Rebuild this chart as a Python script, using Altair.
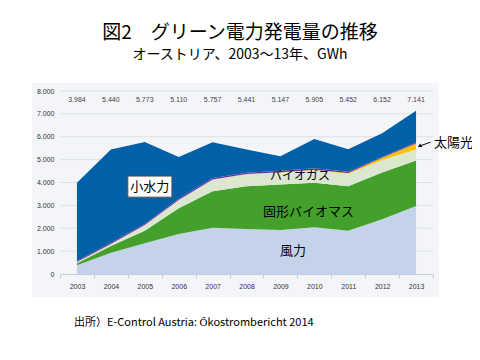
import altair as alt
import pandas as pd

years = [2003, 2004, 2005, 2006, 2007, 2008, 2009, 2010, 2011, 2012, 2013]
totals = [3984, 5440, 5773, 5110, 5757, 5441, 5147, 5905, 5452, 6152, 7141]
wind = [380, 930, 1340, 1745, 2020, 1965, 1920, 2040, 1890, 2390, 2970]
biomass = [90, 290, 550, 1125, 1600, 1875, 1995, 1950, 1950, 2050, 1995]
biogas = [50, 90, 250, 360, 515, 525, 525, 550, 540, 540, 480]
solar = [0, 0, 0, 0, 0, 5, 10, 20, 40, 100, 265]
other = [45, 55, 60, 60, 60, 60, 60, 60, 50, 40, 35]
y_ticks = [0, 1000, 2000, 3000, 4000, 5000, 6000, 7000, 8000]

series_names = ["風力", "固形バイオマス", "バイオガス", "太陽光", "その他", "小水力"]
series_colors = ["#c5d3ea", "#43a02a", "#dbe8cf", "#ffc000", "#7030a0", "#0060a8"]

hydro = [t - (w + b + g + s + o) for t, w, b, g, s, o in zip(totals, wind, biomass, biogas, solar, other)]
series_values = [wind, biomass, biogas, solar, other, hydro]

rows = []
for i, (name, vals) in enumerate(zip(series_names, series_values)):
    for y, v in zip(years, vals):
        rows.append({"year": y, "value": v, "series": name, "order": i})
df = pd.DataFrame(rows)

tot_df = pd.DataFrame({"year": years, "total": totals})

label_names = ["風力", "固形バイオマス", "バイオガス"]
label_x = [2009.37, 2009.83, 2009.58]
label_y = [1020, 2720, 4290]
label_sizes = [13, 13, 12]
lab_df = pd.DataFrame({"year": label_x, "value": label_y, "text": label_names, "size": label_sizes})

FONT = "Noto Sans CJK JP"
xscale = alt.Scale(domain=[2002.5, 2013.5], nice=False, zero=False)
yscale = alt.Scale(domain=[0, 8000], nice=False)

def X(field):
    return alt.X(field, scale=xscale, axis=None, title=None)

def Y(field):
    return alt.Y(field, scale=yscale, axis=None, title=None)

panel = alt.Chart(pd.DataFrame({"a": [0]})).mark_rect(color="#f4f5f9").encode(
    x=alt.value(-28), x2=alt.value(379), y=alt.value(-8), y2=alt.value(206)
)

grid = alt.Chart(pd.DataFrame({"v": y_ticks[1:]})).mark_rule(color="#dde2ea", strokeWidth=1).encode(
    y=Y("v:Q"), x=alt.value(0), x2=alt.value(373)
)

area = alt.Chart(df).mark_area(opacity=1, strokeWidth=0).encode(
    x=alt.X("year:Q", scale=xscale, title=None,
            axis=alt.Axis(values=[y - 0.5 for y in years] + [2013.5],
                          labelExpr="datum.value > 2013 ? '' : toString(datum.value + 0.5)",
                          labelOffset=17, grid=False, domainColor="#c8ccd4", tickColor="#c8ccd4",
                          tickSize=4, labelFontSize=7, labelColor="#333333", labelFont="Liberation Sans",
                          labelPadding=4, zindex=1, labelOverlap=False, labelBound=False, labelFlush=False)),
    y=alt.Y("value:Q", stack="zero", scale=yscale, title=None,
            axis=alt.Axis(values=y_ticks, domain=False, ticks=False, grid=False,
                          labelFontSize=7, labelColor="#333333",
                          labelFont="Liberation Sans", labelPadding=6, zindex=1,
                          labelOverlap=False, labelBound=False, labelFlush=False,
                          labelExpr="replace(format(datum.value, ','), ',', '.')")),
    color=alt.Color("series:N", scale=alt.Scale(domain=series_names, range=series_colors), legend=None),
    order=alt.Order("order:Q"),
)

tot_text = alt.Chart(tot_df).mark_text(fontSize=7, color="#444444", font="Liberation Sans").transform_calculate(
    t="replace(format(datum.total, ','), ',', '.')"
).encode(x=X("year:Q"), y=alt.value(9), text="t:N")

labels = alt.Chart(lab_df).mark_text(font=FONT, color="#000000").encode(
    x=X("year:Q"), y=Y("value:Q"), text="text:N",
    size=alt.Size("size:Q", scale=None, legend=None)
)

box_df = pd.DataFrame({"x": [2004.5], "x2": [2005.8], "y": [3360], "y2": [4280]})
box = alt.Chart(box_df).mark_rect(fill="white", stroke="#555555", strokeWidth=1).encode(
    x=X("x:Q"), x2="x2:Q", y=Y("y:Q"), y2="y2:Q"
)
hydro_lab = alt.Chart(pd.DataFrame({"year": [2005.15], "value": [3820], "text": ["小水力"]})).mark_text(
    font=FONT, fontSize=13, color="#000000").encode(
    x=X("year:Q"), y=Y("value:Q"), text="text:N")

solar_lab = alt.Chart(pd.DataFrame({"year": [2013.53], "value": [5710], "text": ["太陽光"]})).mark_text(
    font=FONT, fontSize=13, color="#000000", align="left").encode(
    x=X("year:Q"), y=Y("value:Q"), text="text:N")

arrow_line = alt.Chart(pd.DataFrame({"x": [2013.42], "x2": [2013.1], "y": [5760], "y2": [5590]})).mark_rule(
    color="#000000", strokeWidth=1).encode(
    x=X("x:Q"), x2="x2:Q", y=Y("y:Q"), y2="y2:Q")
arrow_head = alt.Chart(pd.DataFrame({"x": [2013.12], "y": [5600]})).mark_point(
    shape="triangle", filled=True, color="#000000", size=18, angle=240, opacity=1).encode(
    x=X("x:Q"), y=Y("y:Q"))

source = alt.Chart(pd.DataFrame({"t": ["出所）E-Control Austria: Őkostrombericht 2014"]})).mark_text(
    font=FONT, fontSize=11, color="#000000", align="left").encode(
    x=alt.value(14), y=alt.value(232), text="t:N")

title1 = alt.Chart(pd.DataFrame({"t": ["図2　グリーン電力発電量の推移"]})).mark_text(
    font=FONT, fontSize=19, color="#000000").encode(x=alt.value(180), y=alt.value(-58), text="t:N")
title2 = alt.Chart(pd.DataFrame({"t": ["オーストリア、2003～13年、GWh"]})).mark_text(
    font=FONT, fontSize=14, color="#000000").encode(x=alt.value(180), y=alt.value(-36), text="t:N")

chart = alt.layer(panel, grid, area, tot_text, box, hydro_lab, labels, solar_lab, arrow_line, arrow_head,
                  source, title1, title2).resolve_axis(x="independent", y="independent").properties(
    width=373, height=183,
    autosize=alt.AutoSizeParams(type="none"),
    padding={"left": 52, "top": 83, "right": 39, "bottom": 70},
).configure_view(stroke=None).configure_axis(labelOverlap=False)

chart.save("out.html", embed_options={"renderer": "svg", "actions": False})
